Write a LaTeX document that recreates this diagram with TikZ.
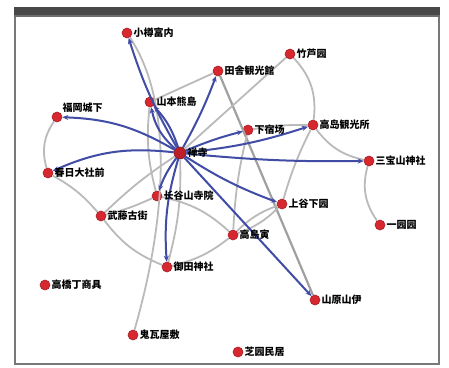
\documentclass[tikz,border=0pt]{standalone}
\usepackage{fontspec}
\newfontfamily\cjk{Noto Sans CJK SC}
\usetikzlibrary{arrows.meta}
\definecolor{eblue}{RGB}{64,76,165}
\definecolor{egray}{RGB}{186,186,186}
\definecolor{egrayd}{RGB}{160,160,160}
\definecolor{dotred}{RGB}{214,40,46}
\definecolor{dotedge}{RGB}{170,30,40}
\definecolor{hubred}{RGB}{190,30,40}
\definecolor{hubedge}{RGB}{120,20,30}
\definecolor{barcol}{RGB}{72,72,72}
\definecolor{barlow}{RGB}{110,110,110}
\definecolor{framecol}{RGB}{120,120,120}
\tikzset{
  pt/.style={circle,fill=dotred,draw=dotedge,line width=0.6pt,inner sep=0pt,minimum size=10pt},
  hub/.style={pt,minimum size=12pt,fill=hubred,draw=hubedge},
  lbl/.style={font=\cjk\bfseries\fontsize{10}{12}\selectfont,text=black,inner sep=1pt},
  bl/.style={draw=eblue,line width=2pt,-{Stealth[length=6pt,width=5pt]}},
  gr/.style={draw=egray,line width=1.8pt},
  grd/.style={draw=egrayd,line width=2.2pt}
}
\begin{document}
\begin{tikzpicture}[x=1pt,y=-1pt]
\useasboundingbox (0,0) rectangle (449,367);
% frame
\fill[white] (0,0) rectangle (449,367);
\draw[framecol,line width=2pt] (15,17) -- (15,364) -- (439,364) -- (439,17);
\fill[barcol] (14,7) rectangle (440,17);
\fill[barlow] (14,15) rectangle (440,17);
% nodes
\node[hub] (h) at (180,153) {};
\node[pt] (top) at (127,33) {};
\node[pt] (shan) at (150,102) {};
\node[pt] (fuku) at (57,117) {};
\node[pt] (kas) at (48,173) {};
\node[pt] (ina) at (218,71) {};
\node[pt] (ru) at (290,54) {};
\node[pt] (ges) at (248,130) {};
\node[pt] (tks) at (313,125) {};
\node[pt] (san) at (369,161) {};
\node[pt] (ich) at (380,225) {};
\node[pt] (ue) at (282,204) {};
\node[pt] (tki) at (233,235) {};
\node[pt] (yam) at (315,300) {};
\node[pt] (bot) at (238,352) {};
\node[pt] (naga) at (157,196) {};
\node[pt] (muto) at (101,216) {};
\node[pt] (mita) at (167,267) {};
\node[pt] (koma) at (45,285) {};
\node[pt] (oni) at (133,335) {};
% gray edges
\draw[gr] (top) .. controls (178,110) and (162,235) .. (oni);
\draw[gr] (shan) -- (ina);
\draw[gr] (fuku) to[bend right=25] (kas);
\draw[gr] (kas) to[bend left=10] (muto);
\draw[gr] (muto) to[bend right=15] (mita);
\draw[gr] (muto) to[bend left=5] (h);
\draw[gr] (muto) to[bend right=5] (naga);
\draw[grd] (ina) -- (yam);
\draw[gr] (ru) -- (h);
\draw[gr] (ru) to[bend left=25] (tks);
\draw[gr] (tks) to[bend right=20] (san);
\draw[gr] (san) to[bend right=25] (ich);
\draw[gr] (ges) to[bend left=5] (tks);
\draw[gr] (tks) to[bend right=5] (ue);
\draw[gr] (ges) to[bend right=5] (tki);
\draw[gr] (ue) to[bend left=12] (tki);
\draw[gr] (ue) to[bend right=12] (tki);
\draw[gr] (tki) to[bend left=12] (mita);
\draw[gr] (naga) to[bend left=15] (tki);
\draw[gr] (h) to[bend left=8] (mita);
\draw[gr] (shan) to[bend right=10] (naga);
% blue edges
\draw[bl] (h) to[bend left=6] (top);
\draw[bl] (h) to[bend left=18] (shan);
\draw[bl] (h) to[bend right=12] (shan);
\draw[bl] (h) to[bend right=14] (fuku);
\draw[bl] (h) to[bend right=15] (kas);
\draw[bl] (h) to[bend right=4] (ina);
\draw[bl] (h) to[bend left=4] (ges);
\draw[bl] (h) to[bend right=6] (tks);
\draw[bl] (h) to[bend right=3] (san);
\draw[bl] (h) to[bend right=6] (ue);
\draw[bl] (h) -- (yam);
\draw[bl] (h) to[bend right=8] (naga);
\draw[bl] (h) to[bend right=10] (mita);
% labels
\node[lbl,anchor=west] (l1) at (top.east) {小樽富内};
\node[lbl,anchor=west] (l2) at (shan.east) {山本熊島};
\node[lbl,anchor=south west] (l3) at ([xshift=-1pt,yshift=3pt]fuku.east) {福岡城下};
\node[lbl,anchor=west] (l4) at (kas.east) {春日大社前};
\node[lbl,anchor=west] (l5) at (h.east) {禅寺};
\node[lbl,anchor=west] (l6) at (ina.east) {田舎観光館};
\node[lbl,anchor=west] (l7) at (ru.east) {竹芦园};
\node[lbl,anchor=west] (l8) at (ges.east) {下宿场};
\node[lbl,anchor=west] (l9) at (tks.east) {高岛観光所};
\node[lbl,anchor=west] (l10) at (san.east) {三宝山神社};
\node[lbl,anchor=west] (l11) at (ich.east) {一园园};
\node[lbl,anchor=west] (l12) at (ue.east) {上谷下园};
\node[lbl,anchor=west] (l13) at (tki.east) {高島寅};
\node[lbl,anchor=west] (l14) at (yam.east) {山原山伊};
\node[lbl,anchor=west] (l15) at (bot.east) {芝园民居};
\node[lbl,anchor=west] (l16) at (naga.east) {长谷山寺院};
\node[lbl,anchor=west] (l17) at (muto.east) {武藤古街};
\node[lbl,anchor=west] (l18) at (mita.east) {御田神社};
\node[lbl,anchor=west] (l19) at (koma.east) {高橋丁商具};
\node[lbl,anchor=west] (l20) at (oni.east) {鬼瓦屋敷};
\end{tikzpicture}
\end{document}
